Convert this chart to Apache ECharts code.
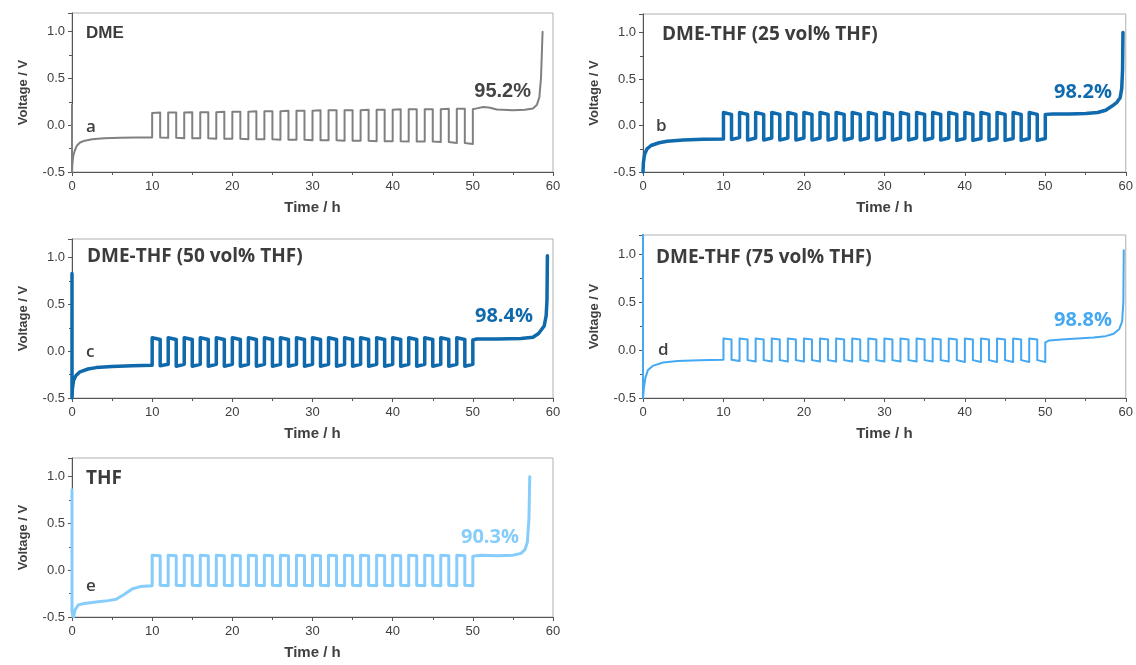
<!DOCTYPE html>
<html>
<head>
<meta charset="utf-8">
<script src="https://cdn.jsdelivr.net/npm/echarts@6/dist/echarts.min.js"></script>
<style>
html,body{margin:0;padding:0;background:#fff;}
#chart{width:1136px;height:665px;}
</style>
</head>
<body>
<div id="chart"></div>
<script>
// ---------- DATA ----------
const xTicks = [0, 10, 20, 30, 40, 50, 60];
const yTicks = [-0.5, 0.0, 0.5, 1.0];
const cycleStart = 10;   // h
const halfPeriod = 1;    // h (strip / plate step)

const panelNames = ['DME', 'DME-THF (25 vol% THF)', 'DME-THF (50 vol% THF)', 'DME-THF (75 vol% THF)', 'THF'];
const panelLetters = ['a', 'b', 'c', 'd', 'e'];
const efficiencies = ['95.2%', '98.2%', '98.4%', '98.8%', '90.3%'];

// initial deposition (t, V)
const aInit = [[0,0.22],[0,-0.5],[0.05,-0.42],[0.15,-0.33],[0.35,-0.27],[0.6,-0.22],[1,-0.185],[1.6,-0.165],[2.5,-0.15],[4,-0.14],[6,-0.135],[8,-0.132],[10,-0.13]];
const bInit = [[0,-0.5],[0.05,-0.4],[0.2,-0.31],[0.5,-0.25],[1,-0.215],[2,-0.185],[3,-0.17],[5,-0.155],[7.5,-0.148],[10,-0.145]];
const cInit = [[0,0.83],[0,-0.5],[0.05,-0.4],[0.2,-0.31],[0.5,-0.26],[1,-0.22],[2,-0.19],[3,-0.175],[5,-0.162],[7.5,-0.155],[10,-0.15]];
const dInit = [[0,1.25],[0,-0.5],[0.1,-0.4],[0.3,-0.29],[0.6,-0.21],[1.2,-0.165],[2.5,-0.13],[4.3,-0.115],[7,-0.105],[10,-0.1]];
const eInit = [[0,0.86],[0,-0.45],[0.2,-0.5],[0.4,-0.42],[0.8,-0.37],[1.5,-0.355],[3,-0.34],[4.5,-0.325],[5.5,-0.31],[6.5,-0.26],[7.5,-0.2],[8.5,-0.175],[10,-0.165]];

// 20 cycles: [high start, high end, low start, low end] (V)
const aCycles = [
 [0.13,0.135,-0.13,-0.135],[0.135,0.135,-0.135,-0.14],[0.135,0.14,-0.14,-0.14],[0.14,0.14,-0.14,-0.145],
 [0.14,0.145,-0.145,-0.145],[0.145,0.145,-0.145,-0.15],[0.145,0.15,-0.15,-0.15],[0.15,0.15,-0.15,-0.155],
 [0.15,0.155,-0.155,-0.155],[0.155,0.155,-0.155,-0.16],[0.155,0.16,-0.16,-0.16],[0.16,0.16,-0.16,-0.165],
 [0.16,0.16,-0.165,-0.165],[0.16,0.165,-0.165,-0.17],[0.165,0.165,-0.17,-0.17],[0.165,0.17,-0.17,-0.175],
 [0.17,0.17,-0.175,-0.175],[0.17,0.17,-0.175,-0.18],[0.17,0.175,-0.18,-0.19],[0.175,0.175,-0.19,-0.2]
];
const bCycles = [
 [0.14,0.12,-0.15,-0.13],[0.14,0.12,-0.155,-0.135],[0.14,0.12,-0.155,-0.135],[0.14,0.12,-0.155,-0.135],
 [0.14,0.12,-0.155,-0.135],[0.14,0.12,-0.155,-0.135],[0.14,0.12,-0.155,-0.135],[0.14,0.12,-0.155,-0.135],
 [0.14,0.12,-0.155,-0.135],[0.14,0.12,-0.155,-0.135],[0.14,0.12,-0.155,-0.135],[0.14,0.12,-0.155,-0.135],
 [0.14,0.12,-0.155,-0.135],[0.14,0.12,-0.155,-0.135],[0.14,0.12,-0.16,-0.14],[0.14,0.12,-0.16,-0.14],
 [0.14,0.12,-0.16,-0.14],[0.14,0.12,-0.16,-0.14],[0.14,0.12,-0.16,-0.14],[0.14,0.12,-0.16,-0.14]
];
const cCycles = [
 [0.145,0.125,-0.155,-0.14],[0.145,0.125,-0.16,-0.14],[0.145,0.125,-0.16,-0.14],[0.145,0.125,-0.16,-0.14],
 [0.145,0.125,-0.16,-0.14],[0.145,0.125,-0.16,-0.14],[0.145,0.125,-0.16,-0.14],[0.145,0.125,-0.16,-0.14],
 [0.145,0.125,-0.16,-0.14],[0.145,0.125,-0.16,-0.14],[0.145,0.125,-0.16,-0.14],[0.145,0.125,-0.16,-0.14],
 [0.145,0.125,-0.16,-0.14],[0.145,0.125,-0.16,-0.14],[0.145,0.125,-0.16,-0.14],[0.145,0.125,-0.16,-0.14],
 [0.145,0.125,-0.16,-0.14],[0.145,0.125,-0.16,-0.14],[0.145,0.125,-0.16,-0.14],[0.145,0.125,-0.16,-0.14]
];
const dCycles = [
 [0.12,0.11,-0.1,-0.115],[0.12,0.11,-0.105,-0.12],[0.12,0.11,-0.105,-0.12],[0.12,0.11,-0.105,-0.12],
 [0.12,0.11,-0.105,-0.12],[0.12,0.11,-0.105,-0.12],[0.12,0.11,-0.105,-0.12],[0.12,0.11,-0.105,-0.12],
 [0.12,0.11,-0.105,-0.12],[0.12,0.11,-0.105,-0.12],[0.12,0.11,-0.105,-0.12],[0.12,0.11,-0.105,-0.12],
 [0.12,0.11,-0.105,-0.12],[0.12,0.11,-0.105,-0.12],[0.12,0.11,-0.105,-0.125],[0.12,0.11,-0.105,-0.125],
 [0.12,0.11,-0.105,-0.125],[0.12,0.11,-0.105,-0.125],[0.12,0.11,-0.105,-0.125],[0.12,0.11,-0.105,-0.125]
];
const eCycles = [
 [0.16,0.155,-0.16,-0.165],[0.16,0.155,-0.16,-0.165],[0.16,0.155,-0.16,-0.165],[0.16,0.155,-0.16,-0.165],
 [0.16,0.155,-0.16,-0.165],[0.16,0.155,-0.16,-0.165],[0.16,0.155,-0.16,-0.165],[0.16,0.155,-0.16,-0.165],
 [0.16,0.155,-0.16,-0.165],[0.16,0.155,-0.16,-0.165],[0.16,0.155,-0.16,-0.165],[0.16,0.155,-0.16,-0.165],
 [0.16,0.155,-0.16,-0.165],[0.16,0.155,-0.16,-0.165],[0.16,0.155,-0.16,-0.165],[0.16,0.155,-0.16,-0.165],
 [0.16,0.155,-0.16,-0.165],[0.16,0.155,-0.16,-0.165],[0.16,0.155,-0.16,-0.165],[0.16,0.155,-0.16,-0.165]
];

// final stripping (t, V)
const aFinal = [[50,0.17],[50.5,0.18],[51.3,0.195],[52,0.19],[53,0.168],[55,0.16],[56.5,0.165],[57.5,0.18],[58,0.22],[58.3,0.3],[58.5,0.5],[58.62,0.8],[58.7,1.0]];
const bFinal = [[50,0.12],[51,0.125],[53,0.125],[55,0.13],[56.5,0.14],[57.5,0.165],[58.3,0.21],[58.9,0.25],[59.3,0.3],[59.5,0.4],[59.6,0.6],[59.65,1.0]];
const cFinal = [[50,0.12],[50.5,0.13],[53,0.13],[56,0.135],[57.5,0.15],[58.2,0.19],[58.9,0.27],[59.15,0.38],[59.25,0.55],[59.3,1.02]];
const dFinal = [[50,0.08],[50.5,0.1],[52,0.11],[54,0.12],[56,0.13],[57.5,0.145],[58.5,0.17],[59.2,0.22],[59.55,0.3],[59.7,0.5],[59.75,1.04]];
const eFinal = [[50,0.15],[51,0.16],[53,0.155],[55,0.16],[56,0.18],[56.5,0.22],[56.8,0.3],[57,0.55],[57.1,1.0]];

// ---------- BUILD ----------
function buildLine(init, cycles, fin) {
  const pts = init.slice();
  cycles.forEach(function (c, i) {
    const t0 = cycleStart + i * 2 * halfPeriod;
    pts.push([t0, c[0]], [t0 + halfPeriod, c[1]], [t0 + halfPeriod, c[2]], [t0 + 2 * halfPeriod, c[3]]);
  });
  return pts.concat(fin);
}
const seriesData = [
  buildLine(aInit, aCycles, aFinal),
  buildLine(bInit, bCycles, bFinal),
  buildLine(cInit, cCycles, cFinal),
  buildLine(dInit, dCycles, dFinal),
  buildLine(eInit, eCycles, eFinal)
];

const colors = ['#808080', '#0f6aae', '#0f69ab', '#45a8f2', '#86cdfb'];
const widths = [2, 3.5, 3.5, 2, 3];
const grids = [
  {left: 72, top: 13, width: 481, height: 159},
  {left: 643, top: 14, width: 483, height: 158},
  {left: 72, top: 239, width: 481, height: 159},
  {left: 643, top: 235, width: 483, height: 163},
  {left: 72, top: 458, width: 481, height: 159}
];
// label layout [title x, title y, letter x, letter y, pct right x, pct y]
const labelPos = [
  [86, 33, 86, 127, 531, 91],
  [662, 35, 656, 126, 1112, 92],
  [87, 257, 86, 352, 533, 316],
  [656, 258, 658, 350, 1112, 320],
  [86, 479, 86, 586, 519, 537]
];

const axisColor = '#555';
const labelColor = '#404040';
const xAxes = [], yAxes = [], series = [], graphics = [];
grids.forEach(function (g, i) {
  xAxes.push({
    type: 'value', gridIndex: i, min: xTicks[0], max: xTicks[xTicks.length - 1], interval: 10,
    axisLine: {show: true, onZero: false, lineStyle: {color: axisColor, width: 1}},
    axisTick: {show: true, length: 4, lineStyle: {color: axisColor}},
    minorTick: {show: true, splitNumber: 2, length: 3, lineStyle: {color: axisColor}},
    splitLine: {show: false}, minorSplitLine: {show: false},
    axisLabel: {fontSize: 13, color: labelColor, margin: 8, fontFamily: 'Liberation Sans'},
    name: 'Time / h', nameLocation: 'middle', nameGap: 28,
    nameTextStyle: {fontSize: 15, fontWeight: 'bold', color: labelColor, fontFamily: 'Liberation Sans'}
  });
  yAxes.push({
    type: 'value', gridIndex: i, min: yTicks[0], max: 1.2, interval: 0.5,
    axisLine: {show: true, onZero: false, lineStyle: {color: axisColor, width: 1}},
    axisTick: {show: true, length: 4, lineStyle: {color: axisColor}},
    minorTick: {show: true, splitNumber: 2, length: 3, lineStyle: {color: axisColor}},
    splitLine: {show: false}, minorSplitLine: {show: false},
    axisLabel: {fontSize: 13, color: labelColor, margin: 7, fontFamily: 'Liberation Sans',
      formatter: function (v) { return yTicks.some(function (t) { return Math.abs(t - v) < 1e-6; }) ? v.toFixed(1) : ''; }},
    name: 'Voltage / V', nameLocation: 'middle', nameGap: 42,
    nameTextStyle: {fontSize: 13, fontWeight: 'bold', color: labelColor, fontFamily: 'Liberation Sans'}
  });
  series.push({
    type: 'line', xAxisIndex: i, yAxisIndex: i, data: seriesData[i],
    showSymbol: false, symbol: 'none', clip: true, animation: false,
    lineStyle: {color: colors[i], width: widths[i], join: 'round', cap: 'round'}
  });
  const p = labelPos[i];
  const titleFont = i === 0 ? 'bold 17px "Liberation Sans"' : 'bold 19px "Open Sans"';
  graphics.push({type: 'text', z: 100, style: {text: panelNames[i], x: p[0], y: p[1], font: titleFont, fill: '#3c3c3c', align: 'left', verticalAlign: 'middle', textAlign: 'left', textVerticalAlign: 'middle'}});
  graphics.push({type: 'text', z: 100, style: {text: panelLetters[i], x: p[2], y: p[3], font: '600 17px "Open Sans"', fill: '#404040', align: 'left', verticalAlign: 'middle', textAlign: 'left', textVerticalAlign: 'middle'}});
  const pctFont = i === 0 ? 'bold 20px "Liberation Sans"' : 'bold 20px "Open Sans"';
  graphics.push({type: 'text', z: 100, style: {text: efficiencies[i], x: p[4], y: p[5], font: pctFont, fill: i === 0 ? '#444' : colors[i], align: 'right', verticalAlign: 'middle', textAlign: 'right', textVerticalAlign: 'middle'}});
});

const chart = echarts.init(document.getElementById('chart'), null, {renderer: 'canvas'});
chart.setOption({
  animation: false,
  backgroundColor: '#fff',
  grid: grids.map(function (g) { return Object.assign({show: true, borderColor: '#b0b0b0', borderWidth: 1, backgroundColor: 'transparent'}, g); }),
  xAxis: xAxes,
  yAxis: yAxes,
  series: series,
  graphic: graphics
});
</script>
</body>
</html>
